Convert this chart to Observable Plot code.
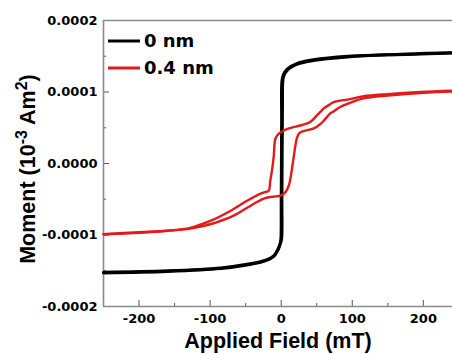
<!DOCTYPE html>
<html><head><meta charset="utf-8">
<script src="https://cdn.jsdelivr.net/npm/d3@7"></script>
<script src="https://cdn.jsdelivr.net/npm/@observablehq/plot@0.6"></script>
<style>
html,body{margin:0;padding:0;background:#fff;}
#chart{position:absolute;left:0;top:0;}
</style>
</head><body><div id="chart"></div>
<script>
// Axis ticks and labels
const xMajor = [-200, -100, 0, 100, 200];
const xLabels = ["-200", "-100", "0", "100", "200"];
const xMinor = [-250, -150, -50, 50, 150];
const yMajor = [-0.0002, -0.0001, 0, 0.0001, 0.0002];
const yLabels = ["-0.0002", "-0.0001", "0.0000", "0.0001", "0.0002"];
const yMinor = [-0.00015, -0.00005, 0.00005, 0.00015];
const xDomain = [-250, 241];
const yDomain = [-0.0002, 0.0002];

const seriesNames = ["0 nm", "0.4 nm"];
const seriesColors = ["#000000", "#e3191c"];

// Moment values below are in units of 1e-4 (axis units)
// 0 nm, field decreasing branch
const field0Down = [250, 196, 149, 93, 45, 22.5, 8.4, 3, 1, 0.6, 0.3, 0, -0.4, -1.5, -3.4, -10.4, -24.5, -48, -85, -160, -250];
const moment0Down = [1.55, 1.54, 1.52, 1.50, 1.45, 1.40, 1.32, 1.24, 1.15, 0.6, 0, -0.6, -1.05, -1.12, -1.17, -1.29, -1.36, -1.41, -1.46, -1.50, -1.52];
// 0 nm, field increasing branch
const field0Up = [-250, -160, -85, -48, -24.5, -10.4, -4, -1.5, 0.5, 1, 1.4, 1.8, 2.2, 3.5, 9, 23, 45, 93, 149, 196, 250];
const moment0Up = [-1.53, -1.51, -1.47, -1.42, -1.37, -1.30, -1.20, -1.13, -1.06, -0.5, 0.2, 0.8, 1.14, 1.22, 1.31, 1.39, 1.44, 1.49, 1.52, 1.53, 1.55];
// 0.4 nm, field decreasing branch
const field4Down = [250, 196, 149, 116, 97, 74, 69, 60, 55, 50, 41, 30, 22, 8, 3.5, -3, -8, -10.5, -13, -15.5, -17.5, -23, -29, -48, -71, -99, -128, -160, -200, -250];
const moment4Down = [1.02, 1.00, 0.97, 0.94, 0.90, 0.86, 0.83, 0.77, 0.72, 0.67, 0.58, 0.54, 0.52, 0.48, 0.46, 0.42, 0.35, 0.10, -0.10, -0.25, -0.38, -0.40, -0.42, -0.52, -0.66, -0.80, -0.90, -0.94, -0.96, -0.99];
// 0.4 nm, field increasing branch
const field4Up = [-250, -200, -160, -128, -100, -90, -67, -43, -24.5, -8, -1, 6, 11, 14, 17, 20, 22, 25, 30, 46, 55, 60, 69, 74, 83, 97.5, 116, 150, 200, 250];
const moment4Up = [-0.99, -0.97, -0.94, -0.91, -0.85, -0.82, -0.73, -0.59, -0.49, -0.46, -0.45, -0.40, -0.30, -0.15, 0.05, 0.25, 0.35, 0.42, 0.45, 0.49, 0.55, 0.60, 0.70, 0.73, 0.79, 0.85, 0.91, 0.95, 0.99, 1.01];

function rows(series, branch, H, M) {
  return H.map((h, i) => ({series, branch, h, m: M[i] * 1e-4}));
}
const black = [...rows("0 nm", "down", field0Down, moment0Down), ...rows("0 nm", "up", field0Up, moment0Up)];
const red = [...rows("0.4 nm", "down", field4Down, moment4Down), ...rows("0.4 nm", "up", field4Up, moment4Up)];

const tickFont = {fontFamily: "DejaVu Sans", fontWeight: "bold", fontSize: 13, fill: "#000"};

const plot = Plot.plot({
  width: 452, height: 354,
  marginLeft: 103, marginRight: 0, marginTop: 20, marginBottom: 48,
  x: {domain: xDomain},
  y: {domain: yDomain},
  color: {domain: seriesNames, range: seriesColors},
  style: {fontFamily: "DejaVu Sans", fontWeight: "bold", fontSize: "13px", color: "#000", background: "#fff"},
  marks: [
    Plot.axisX(xMinor, {tickSize: -3, tickFormat: () => "", label: null, stroke: "#555"}),
    Plot.axisX(xMajor, {tickSize: -6, tickPadding: 13, tickFormat: d => xLabels[xMajor.indexOf(d)], label: null, stroke: "#555", ...tickFont}),
    Plot.axisY(yMinor, {tickSize: -3, tickFormat: () => "", label: null, stroke: "#555"}),
    Plot.axisY(yMajor, {tickSize: -6, tickPadding: 12, tickFormat: d => yLabels[yMajor.indexOf(d)], label: null, stroke: "#555", ...tickFont}),
    Plot.ruleX([xDomain[0]], {stroke: "#8a8a8a", strokeWidth: 1.6}),
    Plot.ruleY(yDomain, {stroke: "#8a8a8a", strokeWidth: 1.6}),
    Plot.line(black, {x: "h", y: "m", z: "branch", stroke: "series", strokeWidth: 3, curve: "catmull-rom"}),
    Plot.line(red, {x: "h", y: "m", z: "branch", stroke: "series", strokeWidth: 2.4, curve: "catmull-rom"})
  ]
});
document.getElementById("chart").appendChild(plot);

const svg = d3.select(plot);
// Legend
const legend = svg.append("g");
seriesNames.forEach((name, i) => {
  const y = i === 0 ? 41 : 68;
  legend.append("line").attr("x1", 108).attr("x2", 140).attr("y1", y).attr("y2", y)
    .attr("stroke", seriesColors[i]).attr("stroke-width", 3);
  legend.append("text").attr("x", 144).attr("y", y + 6).attr("text-anchor", "start")
    .attr("font-family", "DejaVu Sans").attr("font-weight", "bold").attr("font-size", 18)
    .attr("fill", "#000").text(name);
});
// X title
svg.append("text").attr("x", 278).attr("y", 348).attr("text-anchor", "middle")
  .attr("font-family", "Liberation Sans, Arial").attr("font-weight", "bold").attr("font-size", 21.5)
  .attr("fill", "#000").text("Applied Field (mT)");
// Y title with superscripts
const yt = svg.append("text").attr("transform", "translate(35,169) rotate(-90)").attr("text-anchor", "middle")
  .attr("font-family", "Liberation Sans, Arial").attr("font-weight", "bold").attr("font-size", 21.5).attr("fill", "#000");
yt.append("tspan").text("Moment (10");
yt.append("tspan").attr("dy", -8).attr("font-size", 16).text("-3");
yt.append("tspan").attr("dy", 8).text(" Am");
yt.append("tspan").attr("dy", -8).attr("font-size", 16).text("2");
yt.append("tspan").attr("dy", 8).text(")");
</script>
</body></html>
